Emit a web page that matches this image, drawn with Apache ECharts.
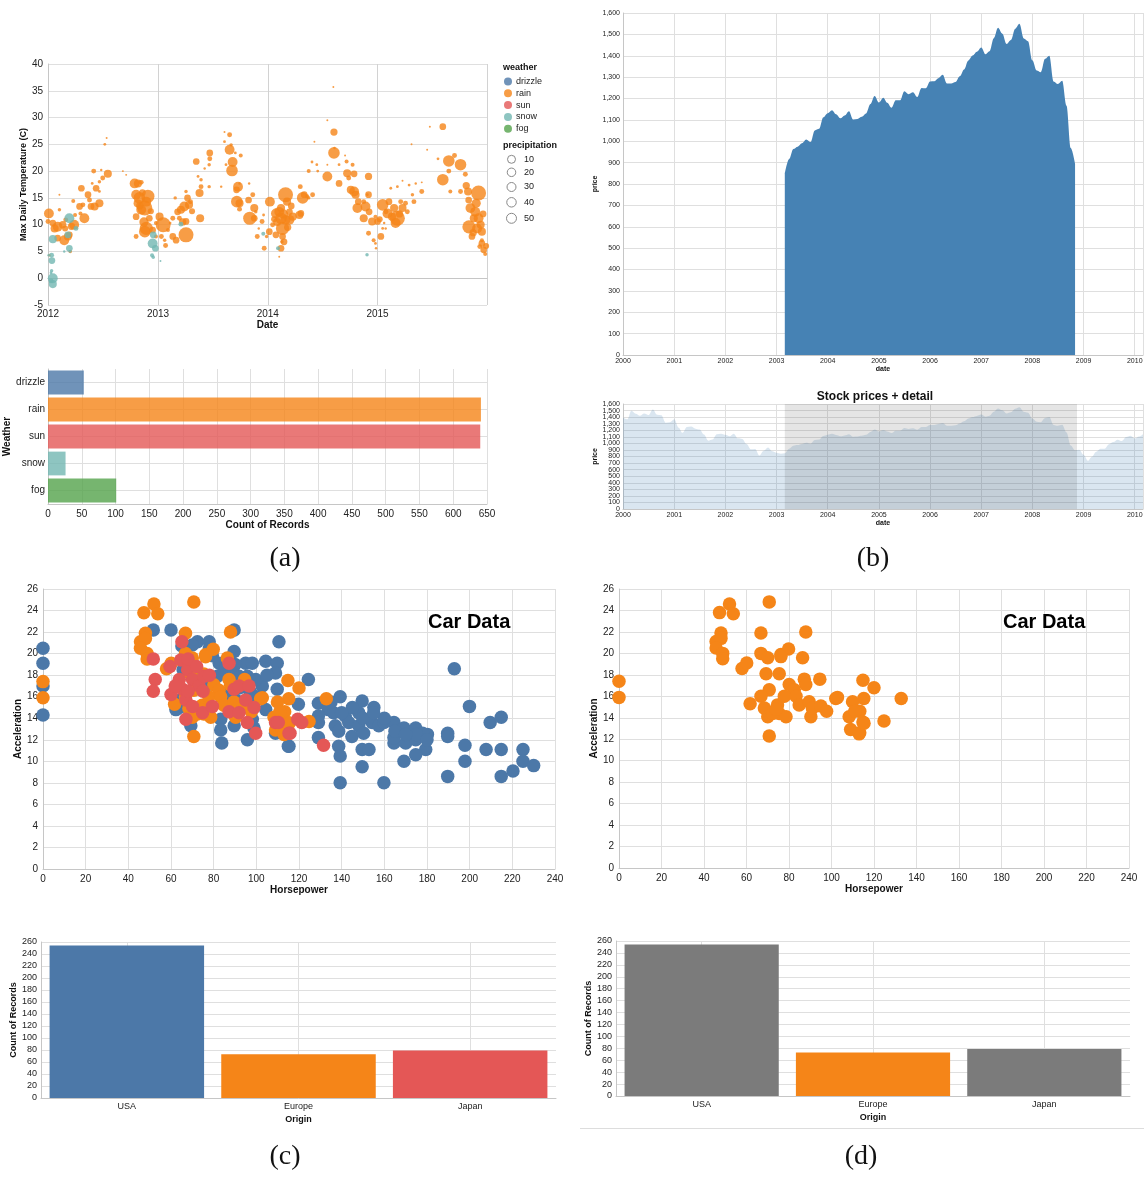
<!DOCTYPE html>
<html><head><meta charset="utf-8">
<script src="https://cdn.jsdelivr.net/npm/echarts@6/dist/echarts.min.js"></script>
<style>html,body{margin:0;padding:0;background:#fff}#c{width:1144px;height:1177px}</style>
</head><body><div id="c"></div>
<script>
// ---------- (a) Seattle weather ----------
const weatherTypes = ['drizzle','rain','sun','snow','fog'];
const weatherCounts = [53,641,640,26,101];
const weatherColors = ['#4c78a8','#f58518','#e45756','#72b7b2','#54a24b'];
const precipLegend = [10,20,30,40,50];
// [date, max temp, precipitation]
const rainPoints = [
['2012-01-04',12.1,23],['2012-01-01',10.6,5],['2012-01-06',4.3,0.5],['2012-01-23',9.3,15],['2012-02-02',9.6,23],['2012-01-17',10.3,10],['2012-02-19',10,12],['2012-02-08',12.8,2],['2012-02-08',15.6,0],['2012-02-29',10.9,5],['2012-02-24',7.1,23],['2012-03-12',8.1,10],['2012-03-28',10,23],['2012-03-15',5,2],['2012-03-25',14.4,3],['2012-04-15',13.4,10],['2012-05-01',11.2,23],['2012-04-21',16.8,10],['2012-05-13',15.6,10],['2012-05-18',14.6,5],['2012-05-23',13.4,10],['2012-06-04',13.4,15],['2012-06-09',16.8,10],['2012-06-20',14,15],['2012-06-01',20,5],['2012-06-20',18,2],['2012-07-01',18.7,5],['2012-07-18',19.5,15],['2012-07-08',25,1],['2012-06-26',20.2,0.5],['2012-07-14',26.2,0],['2012-05-27',17.7,1],['2012-06-20',16.2,1],['2012-02-02',7.5,10],['2012-03-07',7.8,15],['2012-03-31',11.8,3],['2012-04-18',12.1,3],['2012-04-26',13.7,5],['2012-02-27',9.3,8],['2012-03-19',9.7,12],
['2012-09-06',20,0],['2012-09-17',19.3,0],['2012-10-15',17.7,23],['2012-10-26',17.7,15],['2012-11-06',17.9,5],['2012-10-20',15.6,23],['2012-10-31',15,32],['2012-11-28',15.3,42],['2012-11-18',13.1,54],['2012-11-23',14.3,23],['2012-11-06',12.8,23],['2012-10-20',11.5,10],['2012-11-23',9.3,42],['2012-11-18',8.7,32],['2012-10-20',7.8,5],['2012-12-03',11.2,10],['2012-12-14',9,10],['2012-12-25',7.8,3],['2012-12-25',10.3,3],['2012-10-25',14,15],['2012-11-10',16,10],['2012-11-15',10.5,20],['2012-12-08',12.5,8],['2012-11-01',13.5,12],
['2013-01-06',11.5,15],['2013-01-18',10,54],['2013-01-12',7.8,5],['2013-01-26',6.1,5],['2013-01-23',7.1,2],['2013-02-03',9,3],['2013-02-19',7.8,10],['2013-02-10',10.3,1],['2013-03-02',7.1,10],['2013-02-19',11.2,5],['2013-02-27',15,2],['2013-03-07',12.4,10],['2013-03-18',12.8,15],['2013-03-13',11.2,5],['2013-04-04',8.1,54],['2013-03-29',13.4,23],['2013-04-09',15,10],['2013-04-14',13.7,15],['2013-04-19',14.3,5],['2013-04-04',10.6,10],['2013-04-04',16.2,2],['2013-05-08',21.8,10],['2013-05-19',15.9,15],['2013-05-21',11.2,15],['2013-05-24',17.1,5],['2013-05-24',18.4,2],['2013-05-14',19,1],['2013-06-22',23.4,10],['2013-06-22',22.3,5],['2013-06-20',21.2,2],['2013-06-05',20.5,0.5],['2013-06-20',17.1,2],['2013-07-30',17.1,0.5],['2013-08-10',27.3,0],['2013-08-27',26.8,5],['2013-08-10',25.5,1],['2013-08-27',24,23],['2013-09-01',24.9,2],['2013-09-06',21.7,23],['2013-09-04',20.1,32],['2013-09-15',23.4,1],['2013-10-03',22.9,3],['2013-08-15',21.2,1],['2013-09-24',17.1,23],['2013-09-19',16.5,10],['2013-09-20',14.3,32],['2013-09-29',14,15],['2013-09-29',12.9,5],['2013-09-29',17.7,0.5],['2013-10-31',17.7,0.5],['2013-10-29',14.6,10],['2013-11-12',15.6,5],['2013-11-17',13.1,15],['2013-11-02',11.2,42],['2013-11-17',11.2,10],['2013-11-22',12.4,2],['2013-11-27',7.8,5],['2013-12-20',5.6,5],['2013-12-02',9.3,0.5],['2013-12-13',10.6,5],['2013-12-18',11.8,1],['2013-12-28',7.8,2],['2013-03-24',10.5,12],['2013-04-24',12.5,8],
['2014-01-08',14.3,23],['2014-01-06',8.7,10],['2014-01-28',8.1,10],['2014-01-17',10,5],['2014-02-14',5.6,10],['2014-02-08',4,0],['2014-02-19',9.3,42],['2014-02-24',6.8,10],['2014-03-01',10.9,23],['2014-02-08',12.4,23],['2014-03-01',15.6,54],['2014-03-06',14.3,15],['2014-02-14',13.1,15],['2014-01-28',12.1,23],['2014-02-14',11.2,32],['2014-02-19',7.8,10],['2014-02-17',6.8,2],['2014-03-14',10.9,23],['2014-03-14',12.4,10],['2014-03-25',11.5,15],['2014-04-16',11.8,15],['2014-04-21',12.1,10],['2014-04-19',17.1,5],['2014-04-27',15,32],['2014-05-02',15.6,10],['2014-05-12',15.3,3],['2014-05-17',15,2],['2014-05-30',15.6,5],['2014-05-17',20,3],['2014-05-28',21.7,1],['2014-06-13',21.2,1],['2014-06-16',20,1],['2014-06-05',25.5,0],['2014-07-18',19,23],['2014-07-18',21.2,0],['2014-07-18',29.5,0],['2014-08-09',27.3,12],['2014-08-09',23.4,32],['2014-08-07',35.7,0],['2014-08-26',21.2,1],['2014-08-26',17.7,10],['2014-08-11',24.3,0.5],['2014-09-15',22.9,0],['2014-09-20',21.8,3],['2014-09-22',19.6,15],['2014-09-27',18.7,5],['2014-10-10',21.2,3],['2014-10-15',19.5,10],['2014-10-04',16.5,15],['2014-10-15',16.2,23],['2014-10-20',15.6,15],['2014-10-29',14.3,10],['2014-10-26',13.1,23],['2014-11-16',14.3,5],['2014-11-22',13.4,23],['2014-12-02',15.6,10],['2014-12-02',19,12],['2014-12-04',12.4,10],['2014-12-14',10.6,15],['2014-11-28',15.6,1],['2014-11-16',11.2,15],['2014-12-02',8.4,5],['2014-12-19',7.1,3],['2014-12-25',6.5,1],['2014-12-27',5.6,0.5],['2014-12-25',11.5,3],['2014-02-01',10.5,15],['2014-02-22',12,20],['2014-03-08',9.5,12],['2014-01-22',11,8],['2014-03-20',13.5,10],
['2015-01-12',7.8,10],['2015-01-01',10.6,10],['2015-01-18',13.7,32],['2015-02-03',12.1,23],['2015-02-08',14.3,10],['2015-01-29',12.4,5],['2015-02-25',13.1,15],['2015-03-08',11.2,54],['2015-03-02',10.3,23],['2015-03-25',13.1,15],['2015-04-04',14,5],['2015-04-10',12.4,5],['2015-03-19',14.3,5],['2015-02-14',16.8,1],['2015-03-08',17.1,1],['2015-03-25',18.2,0],['2015-04-16',17.4,1],['2015-04-27',15.6,2],['2015-05-02',14.3,5],['2015-05-08',17.7,0.5],['2015-05-28',16.2,5],['2015-05-28',17.9,0],['2015-01-18',9.3,1],['2015-01-23',10.3,0.5],['2015-01-28',9.3,0.5],['2015-06-15',24,0],['2015-04-24',25,0],['2015-06-24',28.3,0],['2015-08-06',28.3,10],['2015-07-21',22.3,1],['2015-08-26',21.9,32],['2015-09-14',22.9,5],['2015-10-04',21.2,32],['2015-08-26',20,5],['2015-08-06',18.4,32],['2015-10-20',19.4,5],['2015-10-23',17.3,12],['2015-10-04',16.2,5],['2015-08-31',16.2,3],['2015-10-29',16.2,15],['2015-12-03',15.9,54],['2015-10-31',14.6,10],['2015-11-06',13.1,23],['2015-11-22',12.4,23],['2015-12-03',11.2,23],['2015-11-01',9.6,42],['2015-11-28',9.3,23],['2015-12-14',8.7,15],['2015-11-17',11.2,15],['2015-11-11',7.8,10],['2015-12-14',6.5,10],['2015-12-07',5.9,5],['2015-12-20',5.3,10],['2015-12-25',4.5,3],['2015-12-14',7.1,3],['2015-11-25',14,20],['2015-12-10',10,15],['2015-11-15',8.5,12],['2015-12-18',12,10],['2015-12-28',6,8],['2015-02-18',11.5,15],['2015-03-15',12,12],['2015-01-08',11,8]
];
const snowPoints = [
['2012-01-03',4.3,0.5],['2012-01-13',4.3,5],['2012-01-14',3.3,10],['2012-01-17',7.3,15],['2012-01-13',1.4,2],['2012-01-17',0,23],['2012-01-17',-1.1,15],['2012-01-11',-0.5,5],['2012-01-11',1,1],['2012-03-12',11.2,23],['2012-03-12',5.6,10],['2012-03-07',8.1,10],['2012-03-14',5,1],['2012-04-03',9.3,5],['2012-02-24',5,0.5],['2012-12-14',6.5,23],['2012-12-16',8.1,10],['2012-12-12',4.3,3],['2012-12-16',3.9,2],['2012-12-23',5.6,10],['2013-01-09',3.2,0],['2013-03-18',10.1,5],['2013-12-17',8.3,3],['2014-02-04',5.6,3],['2014-11-27',4.4,2]
];

// ---------- (b) S&P 500 ----------
const sp500 = [
['2000-01-01',1394.46],['2000-02-01',1366.42],['2000-03-01',1498.58],['2000-04-01',1452.43],['2000-05-01',1420.6],['2000-06-01',1454.6],['2000-07-01',1430.83],['2000-08-01',1517.68],['2000-09-01',1436.51],['2000-10-01',1429.4],['2000-11-01',1314.95],['2000-12-01',1320.28],
['2001-01-01',1366.01],['2001-02-01',1239.94],['2001-03-01',1160.33],['2001-04-01',1249.46],['2001-05-01',1255.82],['2001-06-01',1224.38],['2001-07-01',1211.23],['2001-08-01',1133.58],['2001-09-01',1040.94],['2001-10-01',1059.78],['2001-11-01',1139.45],['2001-12-01',1148.08],
['2002-01-01',1130.2],['2002-02-01',1106.73],['2002-03-01',1147.39],['2002-04-01',1076.92],['2002-05-01',1067.14],['2002-06-01',989.82],['2002-07-01',911.62],['2002-08-01',916.07],['2002-09-01',815.28],['2002-10-01',885.76],['2002-11-01',936.31],['2002-12-01',879.82],
['2003-01-01',855.7],['2003-02-01',841.15],['2003-03-01',848.18],['2003-04-01',916.92],['2003-05-01',963.59],['2003-06-01',974.5],['2003-07-01',990.31],['2003-08-01',1008.01],['2003-09-01',995.97],['2003-10-01',1050.71],['2003-11-01',1058.2],['2003-12-01',1111.92],
['2004-01-01',1131.13],['2004-02-01',1144.94],['2004-03-01',1126.21],['2004-04-01',1107.3],['2004-05-01',1120.68],['2004-06-01',1140.84],['2004-07-01',1101.72],['2004-08-01',1104.24],['2004-09-01',1114.58],['2004-10-01',1130.2],['2004-11-01',1173.82],['2004-12-01',1211.92],
['2005-01-01',1181.27],['2005-02-01',1203.6],['2005-03-01',1180.59],['2005-04-01',1156.85],['2005-05-01',1191.5],['2005-06-01',1191.33],['2005-07-01',1234.18],['2005-08-01',1220.33],['2005-09-01',1228.81],['2005-10-01',1207.01],['2005-11-01',1249.48],['2005-12-01',1248.29],
['2006-01-01',1280.08],['2006-02-01',1280.66],['2006-03-01',1294.87],['2006-04-01',1310.61],['2006-05-01',1270.09],['2006-06-01',1270.2],['2006-07-01',1276.66],['2006-08-01',1303.82],['2006-09-01',1335.85],['2006-10-01',1377.94],['2006-11-01',1400.63],['2006-12-01',1418.3],
['2007-01-01',1438.24],['2007-02-01',1406.82],['2007-03-01',1420.86],['2007-04-01',1482.37],['2007-05-01',1530.62],['2007-06-01',1503.35],['2007-07-01',1455.27],['2007-08-01',1473.99],['2007-09-01',1526.75],['2007-10-01',1549.38],['2007-11-01',1481.14],['2007-12-01',1468.36],
['2008-01-01',1378.55],['2008-02-01',1330.63],['2008-03-01',1322.7],['2008-04-01',1385.59],['2008-05-01',1400.38],['2008-06-01',1280],['2008-07-01',1267.38],['2008-08-01',1282.83],['2008-09-01',1166.36],['2008-10-01',968.75],['2008-11-01',896.24],['2008-12-01',903.25],
['2009-01-01',825.88],['2009-02-01',735.09],['2009-03-01',797.87],['2009-04-01',872.81],['2009-05-01',919.14],['2009-06-01',919.32],['2009-07-01',987.48],['2009-08-01',1020.62],['2009-09-01',1057.08],['2009-10-01',1036.19],['2009-11-01',1095.63],['2009-12-01',1115.1],
['2010-01-01',1073.87],['2010-02-01',1104.49],['2010-03-01',1140.45]
];
const brushRange = ['2003-03-01','2008-11-15'];
const overviewEvenTicks = [0,200,400,600,800,1000,1200,1400,1600];
const overviewOddTicks = [100,300,500,700,900,1100,1300,1500];

// ---------- (c)/(d) Cars ----------
const origins = ['USA','Europe','Japan'];
const originCounts = [254,73,79];
const originColors = ['#4c78a8','#f58518','#e45756'];
const mutedColor = '#7b7b7b';
// [horsepower, acceleration]
const usaPoints = [
[0,20.5],[0,19.1],[0,17.0],[0,14.3],[51.7,22.2],[60,22.2],[72.4,21.1],[77.9,21.1],[89.6,22.2],[89.6,20.2],[65.1,20.7],[79.4,19.8],[82.6,19.1],[95,19.1],[98.1,19.1],[104.4,19.3],[110.6,21.1],[109.8,19.1],[109,18.2],[91.9,17.9],[102.8,17.0],[109.8,16.7],[85.7,16.3],[90.3,15.7],[104.4,14.8],[63.9,15.0],[62.3,14.8],[73.2,14.5],[83.3,13.9],[83.3,12.9],[83.8,11.7],[69.3,13.3],[89.6,13.3],[98.9,13.1],[109,12.6],[115.3,11.4],[76.3,17.0],[81.8,17.9],[73.2,18.2],
[124.4,17.6],[139.3,16.0],[149.6,15.6],[155.1,15.0],[119.7,15.3],[129.1,15.4],[133.8,14.8],[136.2,14.5],[141.7,14.2],[129.1,14.2],[129.1,13.6],[137,13.3],[138.6,12.8],[143.3,13.6],[148,14.5],[148,13.3],[144.8,12.3],[150.3,12.6],[154.3,13.6],[157.4,13.3],[159.8,13.6],[164.5,13.6],[169.2,13.1],[174.7,13.1],[180.2,12.5],[164.5,11.7],[170,11.7],[174.7,12.0],[179.4,11.1],[174.7,10.6],[169.2,10.0],[129.1,12.2],[115,11.4],[138.6,11.4],[139.3,10.5],[149.6,11.1],[152.8,11.1],[149.6,9.5],[139.3,8.0],[159.8,8.0],[192.8,18.6],[199.9,15.1],[189.7,12.6],[189.7,12.3],[197.8,11.5],[197.8,10.0],[189.7,8.6],[207.7,11.1],[214.8,11.1],[209.6,13.6],[214.8,14.1],[225,11.1],[225,10.0],[230,9.6],[220.3,9.1],[214.8,8.6],[164.5,12.2],[177.9,12.6],[65.7,18.5],[88.8,18.2],[95.8,17.9],[99.7,17.6],[63.9,15.7],[98.1,13.9],[95.8,12.0],
[150,14],[145,15],[160,14],[165,12.8],[175,12.5],[180,12],[170,12.5],[155,14.5],[140,14.5],[135,15.5],[105,18],[100,16],[90,19],[85,18.5],[78,20.5],[70,20.8],[92,16.8],[97,16.5],[88,15]
];
const europePoints = [
[0,17.4],[0,15.9],[47.3,23.8],[52,24.6],[53.8,23.7],[70.7,24.8],[45.7,21.1],[48,21.9],[48,21.4],[45.7,20.5],[48.8,20.0],[48.8,19.5],[57.9,18.6],[60.1,19.1],[66.8,21.9],[66.8,20.0],[70,19.6],[69.2,18.1],[75.4,18.1],[76.2,19.9],[79.8,20.4],[76.2,19.7],[86.4,19.6],[87.9,22.0],[87.2,17.6],[87.9,17.1],[94.5,17.6],[80.1,17.1],[82.5,16.6],[70.7,16.6],[66.8,16.0],[61.7,15.3],[68.4,14.9],[70,14.1],[70.7,12.3],[74.6,15.2],[75.4,14.4],[78.6,14.1],[77.8,16.0],[83.3,16.0],[84.8,15.2],[89.5,15.5],[90.3,14.1],[91,14.9],[95,15.1],[97.7,14.6],[102,15.8],[102.8,15.9],[72.3,14.4],[73.9,14.8],[114.8,17.5],[120,16.8],[115.2,15.8],[132.8,15.8],[113.3,14.6],[114.8,13.6],[124.7,13.7],[113.3,12.6],[109.9,15.5],[108.3,14.1],[109,12.9],[113,12.5],[115.3,13.5],[111,14.6]
];
const japanPoints = [
[65.1,21.1],[51.7,19.5],[52.6,17.6],[51.7,16.5],[59.5,18.8],[64.6,19.4],[67.8,18.5],[63.9,17.6],[60,16.2],[65.4,16.7],[70.1,17.6],[73.2,17.0],[75.5,17.9],[67,15.7],[67,13.9],[74.8,14.5],[87.2,19.1],[89.6,16.7],[91.9,17.0],[96.6,17.0],[95,15.7],[98.9,15.0],[95.8,13.6],[99.7,12.6],[87.2,14.6],[79.4,15.1],[70.1,15.1],[109,13.6],[115.3,12.6],[91.9,14.5],[110.3,13.6],[119.4,13.9],[121.3,13.6],[115.8,12.6],[131.5,11.5],[68,19.5],[72,18.8],[75,16.5],[62,17.0],[68,16.5],[78,18]
];

// ---------- styling helpers ----------
const FONT = '"Liberation Sans", Arial, Helvetica, sans-serif';
const GRID_C = '#dfdfdf';
const AXIS_C = '#c6c6c6';
const YEAR = 365*24*3600*1000;
function lbl(size, extra){ return Object.assign({fontSize:size, color:'#222', fontFamily:FONT, hideOverlap:false, showMinLabel:true, showMaxLabel:true}, extra||{}); }
function nm(size){ return {fontSize:size, fontWeight:'bold', color:'#111', fontFamily:FONT}; }
function axisBase(grid, extra){
  return Object.assign({gridIndex:grid, axisLine:{show:true, lineStyle:{color:AXIS_C}}, axisTick:{show:false},
    splitLine:{show:true, lineStyle:{color:GRID_C, width:1}}, nameLocation:'middle'}, extra);
}
function precipSize(v){ return Math.sqrt(4*(3 + 3.2*v[2])/Math.PI); }
function centerLines(key, n){
  return {silent:true, symbol:'none', z:1, animation:false, label:{show:false}, emphasis:{disabled:true},
    lineStyle:{color:GRID_C, type:'solid', width:1}, data: Array.from({length:n}, (_, i) => ({[key]: i}))};
}

const detailData = sp500.filter(d => d[0] >= '2003-03-01' && d[0] <= '2008-11-01');

const chart = echarts.init(document.getElementById('c'), null, {renderer:'canvas'});
const option = {
  animation:false,
  backgroundColor:'#fff',
  textStyle:{fontFamily:FONT},
  title:[
    {text:'Stock prices + detail', left:875, top:391, textAlign:'center', padding:0, textStyle:{fontSize:12, fontWeight:'bold', color:'#111', fontFamily:FONT}},
    {text:'Car Data', left:428, top:612, padding:0, textStyle:{fontSize:20, fontWeight:'bold', color:'#000', fontFamily:FONT}},
    {text:'Car Data', left:1003, top:612, padding:0, textStyle:{fontSize:20, fontWeight:'bold', color:'#000', fontFamily:FONT}},
    {text:'(a)', left:285, top:545, textAlign:'center', padding:0, textStyle:{fontSize:28, fontWeight:'normal', color:'#111', fontFamily:'"Liberation Serif","DejaVu Serif",serif'}},
    {text:'(b)', left:873, top:545, textAlign:'center', padding:0, textStyle:{fontSize:28, fontWeight:'normal', color:'#111', fontFamily:'"Liberation Serif","DejaVu Serif",serif'}},
    {text:'(c)', left:285, top:1143, textAlign:'center', padding:0, textStyle:{fontSize:28, fontWeight:'normal', color:'#111', fontFamily:'"Liberation Serif","DejaVu Serif",serif'}},
    {text:'(d)', left:861, top:1143, textAlign:'center', padding:0, textStyle:{fontSize:28, fontWeight:'normal', color:'#111', fontFamily:'"Liberation Serif","DejaVu Serif",serif'}}
  ],
  legend:{data:weatherTypes, orient:'vertical', left:504, top:77, padding:0, itemWidth:8, itemHeight:8, itemGap:2.8,
    icon:'circle', selectedMode:false, textStyle:{fontSize:9, color:'#222', fontFamily:FONT, padding:[0,0,0,-1]}},
  graphic:[
    {type:'text', left:503, top:63, style:{text:'weather', font:'bold 9px '+FONT, fill:'#111'}},
    {type:'text', left:503, top:141, style:{text:'precipitation', font:'bold 9px '+FONT, fill:'#111'}},
    ...precipLegend.map((p, i) => ({type:'circle', shape:{cx:511.5, cy:[159.3,172.3,187,202.3,218.3][i], r:4+i*0.25}, style:{fill:'#fff', stroke:'#888', lineWidth:1}})),
    ...precipLegend.map((p, i) => ({type:'text', x:524, y:[159.3,172.3,187,202.3,218.3][i], style:{text:String(p), font:'9px '+FONT, fill:'#222', verticalAlign:'middle'}})),
    {type:'line', shape:{x1:580, y1:1128.5, x2:1144, y2:1128.5}, style:{stroke:'#ddd', lineWidth:1}}
  ],
  grid:[
    {left:48, top:64, width:439, height:241},
    {left:48, top:369, width:439, height:135},
    {left:623, top:13, width:520, height:342},
    {left:623, top:404, width:520, height:105},
    {left:43, top:589, width:512, height:280},
    {left:619, top:589, width:510, height:279},
    {left:41, top:942, width:515, height:156},
    {left:616, top:941, width:514, height:155}
  ].map(g => Object.assign({containLabel:false, outerBoundsMode:'none'}, g)),
  xAxis:[
    axisBase(0, {type:'time', min:'2012-01-01', max:'2015-12-31', minInterval:YEAR, maxInterval:YEAR*1.01, splitNumber:4,
      axisLabel:lbl(10, {formatter:'{yyyy}', margin:4, showMaxLabel:false}), name:'Date', nameGap:14, nameTextStyle:nm(10),
      splitLine:{show:true, lineStyle:{color:'#d2d2d2'}}}),
    axisBase(1, {type:'value', min:0, max:650, interval:50, axisLabel:lbl(10, {margin:5}), name:'Count of Records', nameGap:14, nameTextStyle:nm(10)}),
    axisBase(2, {type:'time', min:'2000-01-01', max:'2010-03-01', minInterval:YEAR, maxInterval:YEAR*1.01, splitNumber:10,
      axisLabel:lbl(7, {formatter:'{yyyy}', margin:3, showMaxLabel:false}), name:'date', nameGap:10, nameTextStyle:nm(7)}),
    axisBase(3, {type:'time', min:'2000-01-01', max:'2010-03-01', minInterval:YEAR, maxInterval:YEAR*1.01, splitNumber:10,
      axisLabel:lbl(7, {formatter:'{yyyy}', margin:3, showMaxLabel:false}), name:'date', nameGap:11, nameTextStyle:nm(7)}),
    axisBase(4, {type:'value', min:0, max:240, interval:20, axisLabel:lbl(10, {margin:5}), name:'Horsepower', nameGap:16, nameTextStyle:nm(10)}),
    axisBase(5, {type:'value', min:0, max:240, interval:20, axisLabel:lbl(10, {margin:5}), name:'Horsepower', nameGap:16, nameTextStyle:nm(10)}),
    axisBase(6, {type:'category', data:origins, splitLine:{show:false}, axisLabel:lbl(9, {margin:4}), name:'Origin', nameGap:17, nameTextStyle:nm(9)}),
    axisBase(7, {type:'category', data:origins, splitLine:{show:false}, axisLabel:lbl(9, {margin:4}), name:'Origin', nameGap:17, nameTextStyle:nm(9)})
  ],
  yAxis:[
    axisBase(0, {type:'value', min:-5, max:40, interval:5, axisLabel:lbl(10, {margin:5}), name:'Max Daily Temperature (C)', nameGap:15, nameTextStyle:nm(9)}),
    axisBase(1, {type:'category', data:weatherTypes, inverse:true, splitLine:{show:false}, axisLabel:lbl(10, {margin:3}), name:'Weather', nameGap:31, nameTextStyle:nm(10)}),
    axisBase(2, {type:'value', min:0, max:1600, interval:100, axisLabel:lbl(7, {margin:3}), name:'price', nameGap:22, nameTextStyle:nm(7)}),
    axisBase(3, {type:'value', min:0, max:1600, interval:100, axisLabel:lbl(7, {margin:3, customValues:overviewEvenTicks}), name:'price', nameGap:22, nameTextStyle:nm(7)}),
    axisBase(4, {type:'value', min:0, max:26, interval:2, axisLabel:lbl(10, {margin:5}), name:'Acceleration', nameGap:18, nameTextStyle:nm(10)}),
    axisBase(5, {type:'value', min:0, max:26, interval:2, axisLabel:lbl(10, {margin:5}), name:'Acceleration', nameGap:17, nameTextStyle:nm(10)}),
    axisBase(6, {type:'value', min:0, max:260, interval:20, axisLabel:lbl(9, {margin:4}), name:'Count of Records', nameGap:22, nameTextStyle:nm(9)}),
    axisBase(7, {type:'value', min:0, max:260, interval:20, axisLabel:lbl(9, {margin:4}), name:'Count of Records', nameGap:20, nameTextStyle:nm(9)}),
    {gridIndex:3, type:'value', min:0, max:1600, interval:100, position:'left', axisLine:{show:false}, axisTick:{show:false}, splitLine:{show:false},
      axisLabel:lbl(7, {margin:3, customValues:overviewOddTicks})}
  ],
  series:[
    {type:'scatter', name:'rain', xAxisIndex:0, yAxisIndex:0, data:rainPoints, symbolSize:precipSize, itemStyle:{color:weatherColors[1], opacity:0.8}},
    {type:'scatter', name:'snow', xAxisIndex:0, yAxisIndex:0, data:snowPoints, symbolSize:precipSize, itemStyle:{color:weatherColors[3], opacity:0.8}},
    {type:'scatter', name:'drizzle', xAxisIndex:0, yAxisIndex:0, data:[], itemStyle:{color:weatherColors[0], opacity:0.8}},
    {type:'scatter', name:'sun', xAxisIndex:0, yAxisIndex:0, data:[], itemStyle:{color:weatherColors[2], opacity:0.8}},
    {type:'scatter', name:'fog', xAxisIndex:0, yAxisIndex:0, data:[], itemStyle:{color:weatherColors[4], opacity:0.8}},
    {type:'bar', xAxisIndex:1, yAxisIndex:1, z:2, barCategoryGap:'12%',
      data:weatherCounts.map((v, i) => ({value:v, itemStyle:{color:weatherColors[i], opacity:0.8}})),
      markLine:centerLines('yAxis', weatherTypes.length)},
    {type:'line', xAxisIndex:2, yAxisIndex:2, data:detailData, smooth:0.35, smoothMonotone:'x', showSymbol:false,
      lineStyle:{width:0}, areaStyle:{color:'#4682b4', opacity:1}},
    {type:'line', xAxisIndex:3, yAxisIndex:3, data:sp500, smooth:0.35, smoothMonotone:'x', showSymbol:false,
      lineStyle:{width:0}, areaStyle:{color:'#4682b4', opacity:0.2},
      markArea:{silent:true, z:5, itemStyle:{color:'rgba(51,51,51,0.125)'}, label:{show:false},
        data:[[{xAxis:+new Date(brushRange[0])}, {xAxis:+new Date(brushRange[1])}]]}},
    {type:'scatter', xAxisIndex:4, yAxisIndex:4, data:usaPoints, symbolSize:13.5, itemStyle:{color:originColors[0], opacity:1}},
    {type:'scatter', xAxisIndex:4, yAxisIndex:4, data:europePoints, symbolSize:13.5, itemStyle:{color:originColors[1], opacity:1}},
    {type:'scatter', xAxisIndex:4, yAxisIndex:4, data:japanPoints, symbolSize:13.5, itemStyle:{color:originColors[2], opacity:1}},
    {type:'scatter', xAxisIndex:5, yAxisIndex:5, data:europePoints, symbolSize:13.5, itemStyle:{color:originColors[1], opacity:1}},
    {type:'bar', xAxisIndex:6, yAxisIndex:6, z:2, barCategoryGap:'10%',
      data:originCounts.map((v, i) => ({value:v, itemStyle:{color:originColors[i]}})),
      markLine:centerLines('xAxis', origins.length)},
    {type:'bar', xAxisIndex:7, yAxisIndex:7, z:2, barCategoryGap:'10%',
      data:originCounts.map((v, i) => ({value:v, itemStyle:{color:origins[i] === 'Europe' ? originColors[1] : mutedColor}})),
      markLine:centerLines('xAxis', origins.length)}
  ]
};
chart.setOption(option);
</script>
</body></html>
